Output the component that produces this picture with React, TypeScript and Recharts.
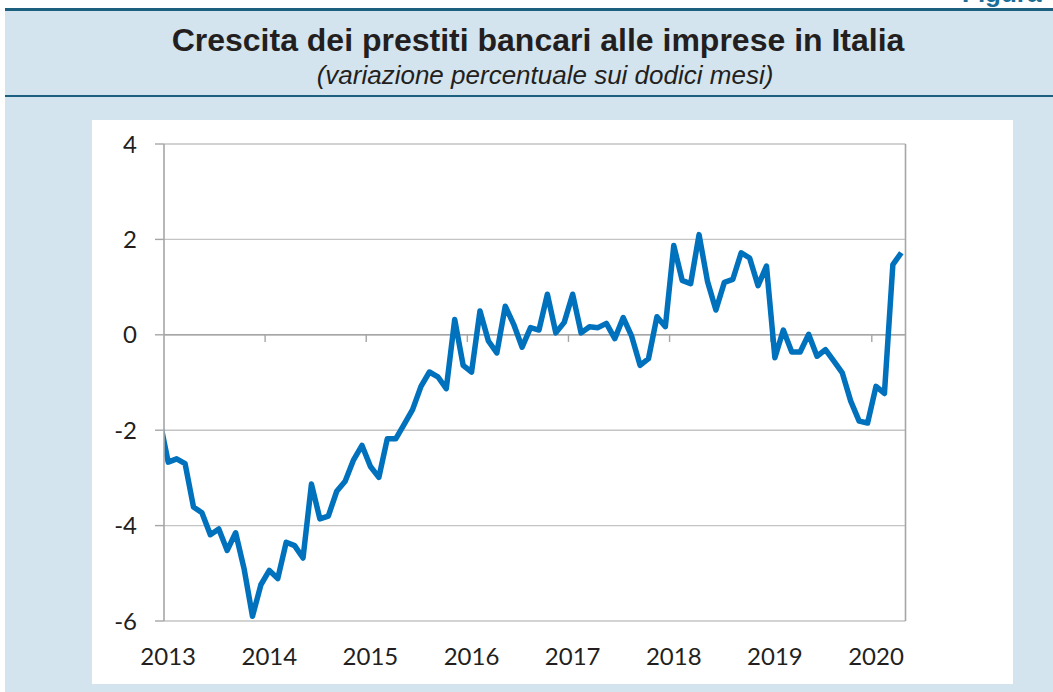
import React from 'react';
import { LineChart, Line, XAxis, YAxis, CartesianGrid, ReferenceLine } from 'recharts';

// anni sull'asse orizzontale (etichetta posta su gennaio)
const yearLabels = ['2013', '2014', '2015', '2016', '2017', '2018', '2019', '2020'];

// tacche dell'asse verticale
const yTicks = [-6, -4, -2, 0, 2, 4];

// dicembre 2012: visibile solo come tratto tagliato al bordo sinistro
const dec2012 = -1.8;

// variazione percentuale sui dodici mesi, gen 2013 - apr 2020
const loanGrowth = [
  -2.67, -2.6, -2.7, -3.61, -3.73, -4.19, -4.07, -4.52, -4.15, -4.9, -5.9, -5.24,
  -4.94, -5.11, -4.35, -4.42, -4.68, -3.13, -3.86, -3.8, -3.28, -3.07, -2.62, -2.32,
  -2.76, -2.99, -2.18, -2.18, -1.88, -1.57, -1.08, -0.78, -0.88, -1.13, 0.32, -0.64,
  -0.78, 0.5, -0.13, -0.38, 0.6, 0.22, -0.26, 0.15, 0.1, 0.85, 0.04, 0.26,
  0.85, 0.04, 0.17, 0.15, 0.24, -0.08, 0.36, -0.03, -0.64, -0.5, 0.38, 0.17,
  1.87, 1.14, 1.07, 2.1, 1.12, 0.52, 1.1, 1.16, 1.72, 1.61, 1.03, 1.44,
  -0.48, 0.1, -0.36, -0.36, 0.01, -0.45, -0.31, -0.55, -0.8, -1.39, -1.81, -1.85,
  -1.08, -1.23, 1.47, 1.72,
];

const data = [{ m: -1, v: dec2012 }, ...loanGrowth.map((v, i) => ({ m: i, v }))];
const xTicks = yearLabels.map((_, i) => i * 12);
// tacche sull'asse dello zero, tra dicembre e gennaio
const zeroTicks = yearLabels.slice(1).map((_, i) => (i + 1) * 12 - 0.5);

const BLUE_BG = '#d3e4ee';
const DARK = '#1c5f7e';
const AXIS = '#a6a6a6';
const GRID = '#c4c4c4';
const tickStyle = { fill: '#231f20', fontSize: 24, fontFamily: 'Lato, "Open Sans", sans-serif' };

export default function App() {
  return (
    <div style={{ position: 'absolute', left: 0, top: 0, width: 1053, height: 692, background: '#fff', overflow: 'hidden' }}>
      <div style={{ position: 'absolute', left: 5, top: 10, right: 0, bottom: 0, background: BLUE_BG }} />
      <div style={{ position: 'absolute', left: 5, top: 8, right: 0, height: 3, background: DARK }} />
      <div style={{ position: 'absolute', left: 5, top: 95, right: 0, height: 2, background: DARK }} />
      <div style={{ position: 'absolute', left: 962, top: -22, fontFamily: '"Liberation Sans", Arial, sans-serif', fontWeight: 'bold', fontSize: 26, color: '#1a6d94' }}>
        Figura
      </div>
      <div style={{ position: 'absolute', left: 23, right: 0, top: 22, textAlign: 'center', fontFamily: '"Liberation Sans", Arial, sans-serif', fontWeight: 'bold', fontSize: 32, color: '#231f20', lineHeight: '36px' }}>
        Crescita dei prestiti bancari alle imprese in Italia
      </div>
      <div style={{ position: 'absolute', left: 37, right: 0, top: 60, textAlign: 'center', fontFamily: '"Liberation Sans", Arial, sans-serif', fontStyle: 'italic', fontSize: 26, color: '#231f20', lineHeight: '30px' }}>
        (variazione percentuale sui dodici mesi)
      </div>
      <div style={{ position: 'absolute', left: 92, top: 120, width: 921, height: 564, background: '#fff' }}>
        <LineChart width={921} height={564} data={data} margin={{ top: 24, right: 0, bottom: 0, left: 0 }}>
          <CartesianGrid vertical={false} stroke={GRID} strokeWidth={1.4} />
          <XAxis
            dataKey="m"
            type="number"
            domain={[-0.5, 87.5]}
            allowDataOverflow
            ticks={xTicks}
            tickFormatter={(t: number) => yearLabels[Math.round(t / 12)]}
            axisLine={false}
            tickLine={false}
            tickSize={8}
            tickMargin={19}
            height={63}
            tick={tickStyle}
            interval={0}
          />
          <YAxis
            domain={[-6, 4]}
            ticks={yTicks}
            width={72}
            tickSize={9}
            tickMargin={18}
            axisLine={{ stroke: AXIS, strokeWidth: 1.6 }}
            tickLine={{ stroke: AXIS, strokeWidth: 1.4 }}
            tick={tickStyle}
            interval={0}
          />
          <YAxis
            yAxisId="right"
            orientation="right"
            domain={[-6, 4]}
            ticks={yTicks}
            width={107.5}
            tickSize={9}
            tickMargin={17}
            axisLine={{ stroke: AXIS, strokeWidth: 1.6 }}
            tickLine={{ stroke: AXIS, strokeWidth: 1.4 }}
            tick={tickStyle}
            interval={0}
          />
          <ReferenceLine y={0} stroke={AXIS} strokeWidth={1.6} />
          {zeroTicks.map((x) => (
            <ReferenceLine
              key={x}
              segment={[{ x, y: 0 }, { x, y: -0.15 }]}
              stroke={AXIS}
              strokeWidth={1.4}
            />
          ))}
          <Line
            type="linear"
            dataKey="v"
            stroke="#0071bc"
            strokeWidth={5.5}
            strokeLinejoin="round"
            dot={false}
            activeDot={false}
            isAnimationActive={false}
          />
        </LineChart>
      </div>
    </div>
  );
}
